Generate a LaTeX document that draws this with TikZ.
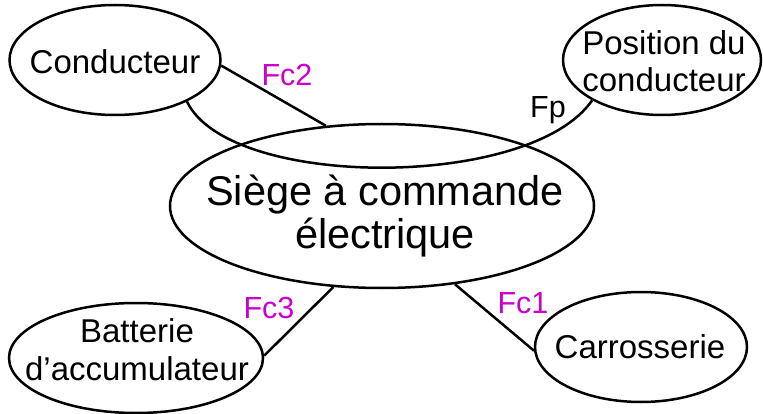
\documentclass[tikz,border=0pt]{standalone}
\usepackage{fontspec}
\setmainfont{Liberation Sans}
\usetikzlibrary{shapes.geometric}
\definecolor{fmag}{RGB}{204,0,204}
\begin{document}
\begin{tikzpicture}[x=1pt,y=-1pt,
  ell/.style={ellipse,draw,line width=2.5pt,inner sep=0pt},
  txt/.style={font=\fontsize{33}{37.5}\selectfont,align=center,inner sep=0pt,anchor=base},
  big/.style={font=\fontsize{41.5}{43}\selectfont,align=center,inner sep=0pt,anchor=base},
  lab/.style={font=\fontsize{30.5}{33}\selectfont,inner sep=0pt,anchor=base},
  conn/.style={line width=2.5pt}]
\useasboundingbox (0,0) rectangle (763,414);
% ellipses
\node[ell,minimum width=211pt,minimum height=110pt] (cond) at (115,60) {};
\node[ell,minimum width=198pt,minimum height=110pt] (pos) at (662,60) {};
\node[ell,minimum width=424pt,minimum height=164pt] (siege) at (382,206) {};
\node[ell,minimum width=254pt,minimum height=110pt] (batt) at (136,358) {};
\node[ell,minimum width=212pt,minimum height=110pt] (car) at (641,347) {};
% texts (base = baseline of the last line)
\node[txt] (condT) at (115,74) {Conducteur};
\node[txt] (posT) at (664,92) {Position du\\conducteur};
\node[big] (siegeT) at (385,248) {Siège à commande\\électrique};
\node[txt] (battT) at (137,380) {Batterie\\d’accumulateur};
\node[txt] (carT) at (640,358) {Carrosserie};
% connectors
\draw[conn] (cond.-3) -- (siege.125.8);
\draw[conn] (cond.-30) .. controls +(42,88) and +(-62,90) .. (pos.210);
\draw[conn] (batt.1.4) -- (siege.239);
\draw[conn] (siege.-47.3) -- (car.182.8);
% labels
\node[lab,text=fmag] (lFc2) at (287,86) {Fc2};
\node[lab] (lFp) at (548,118) {Fp};
\node[lab,text=fmag] (lFc3) at (269,318) {Fc3};
\node[lab,text=fmag] (lFc1) at (523,313) {Fc1};
\end{tikzpicture}
\end{document}
